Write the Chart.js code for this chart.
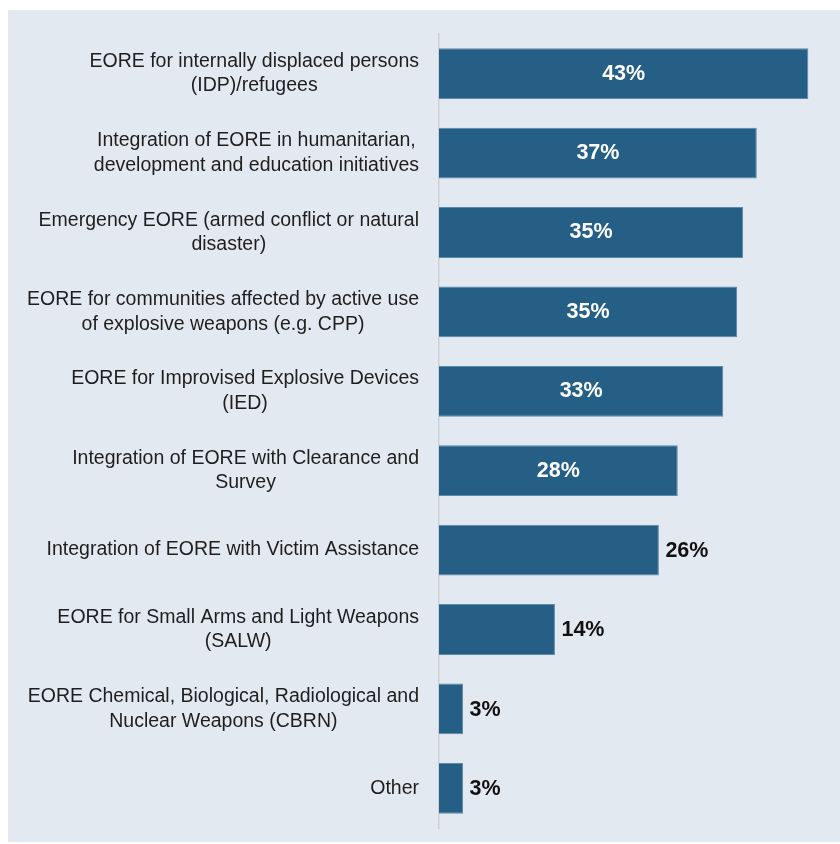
<!DOCTYPE html>
<html lang="en">
<head>
  <meta charset="UTF-8">
  <title>EORE activities</title>
  <script src="https://cdn.jsdelivr.net/npm/chart.js"></script>
  <style>
    html, body { margin: 0; padding: 0; background: #ffffff; }
    #wrap { width: 840px; height: 844px; }
  </style>
</head>
<body>
  <div id="wrap"><canvas id="eoreChart"></canvas></div>

  <script>
    // categories (each entry = lines of the label)
    const categories = [
      ['EORE for internally displaced persons', '(IDP)/refugees'],
      ['Integration of EORE in humanitarian,', 'development and education initiatives'],
      ['Emergency EORE (armed conflict or natural', 'disaster)'],
      ['EORE for communities affected by active use', 'of explosive weapons (e.g. CPP)'],
      ['EORE for Improvised Explosive Devices', '(IED)'],
      ['Integration of EORE with Clearance and', 'Survey'],
      ['Integration of EORE with Victim Assistance'],
      ['EORE for Small Arms and Light Weapons', '(SALW)'],
      ['EORE Chemical, Biological, Radiological and', 'Nuclear Weapons (CBRN)'],
      ['Other']
    ];
    // share of respondents (%)
    const shares = [43, 37, 35.4, 34.7, 33.1, 27.8, 25.6, 13.5, 2.8, 2.8];
    // labels printed on the bars
    const shareLabels = ['43%', '37%', '35%', '35%', '33%', '28%', '26%', '14%', '3%', '3%'];

    const FONT = '"Liberation Sans", Arial, Helvetica, sans-serif';

    // panel background
    const panelBg = {
      id: 'panelBg',
      beforeDraw(chart) {
        const c = chart.ctx;
        c.save();
        c.fillStyle = '#e3e9f0';
        c.fillRect(8, 10, chart.width - 8, chart.height - 12);
        c.restore();
      }
    };

    // category labels: block right-aligned to the axis, lines centred in the block
    const catLabels = {
      id: 'catLabels',
      afterDraw(chart) {
        const c = chart.ctx;
        const y = chart.scales.y;
        c.save();
        c.font = '19.5px ' + FONT;
        c.fillStyle = '#1e1e1e';
        c.textAlign = 'center';
        c.textBaseline = 'middle';
        chart.data.labels.forEach((lines, i) => {
          const w = Math.max(...lines.map(l => c.measureText(l).width));
          const cx = 419 - w / 2;
          const cy = y.getPixelForValue(i);
          const lh = 24.5;
          lines.forEach((l, k) => {
            c.fillText(l, cx, cy + (k - (lines.length - 1) / 2) * lh);
          });
        });
        c.restore();
      }
    };

    // value labels: white inside long bars, black after short ones
    const valueLabels = {
      id: 'valueLabels',
      afterDatasetsDraw(chart) {
        const c = chart.ctx;
        const meta = chart.getDatasetMeta(0);
        c.save();
        c.font = 'bold 21.5px ' + FONT;
        c.textBaseline = 'middle';
        meta.data.forEach((bar, i) => {
          const v = shares[i];
          if (v >= 27) {
            c.fillStyle = '#ffffff';
            c.textAlign = 'center';
            c.fillText(shareLabels[i], (bar.base + bar.x) / 2, bar.y);
          } else {
            c.fillStyle = '#111111';
            c.textAlign = 'left';
            c.fillText(shareLabels[i], bar.x + 6.5, bar.y + 1);
          }
        });
        c.restore();
      }
    };

    new Chart(document.getElementById('eoreChart'), {
      type: 'bar',
      data: {
        labels: categories,
        datasets: [{
          data: shares,
          backgroundColor: '#255f85',
          borderColor: '#5d89ad',
          borderWidth: 1,
          borderSkipped: 'left',
          categoryPercentage: 0.8,
          barPercentage: 0.8
        }]
      },
      options: {
        indexAxis: 'y',
        responsive: true,
        maintainAspectRatio: false,
        animation: false,
        layout: { padding: { left: 0, top: 34, bottom: 16, right: 14.5 } },
        plugins: {
          legend: { display: false },
          tooltip: { enabled: false }
        },
        scales: {
          x: {
            display: false,
            min: 0,
            max: 45
          },
          y: {
            afterFit(scale) { scale.width = 439; },
            ticks: { display: false },
            grid: { display: false },
            border: { display: true, color: '#cfd0d2', width: 1.5 }
          }
        }
      },
      plugins: [panelBg, catLabels, valueLabels]
    });
  </script>
</body>
</html>
